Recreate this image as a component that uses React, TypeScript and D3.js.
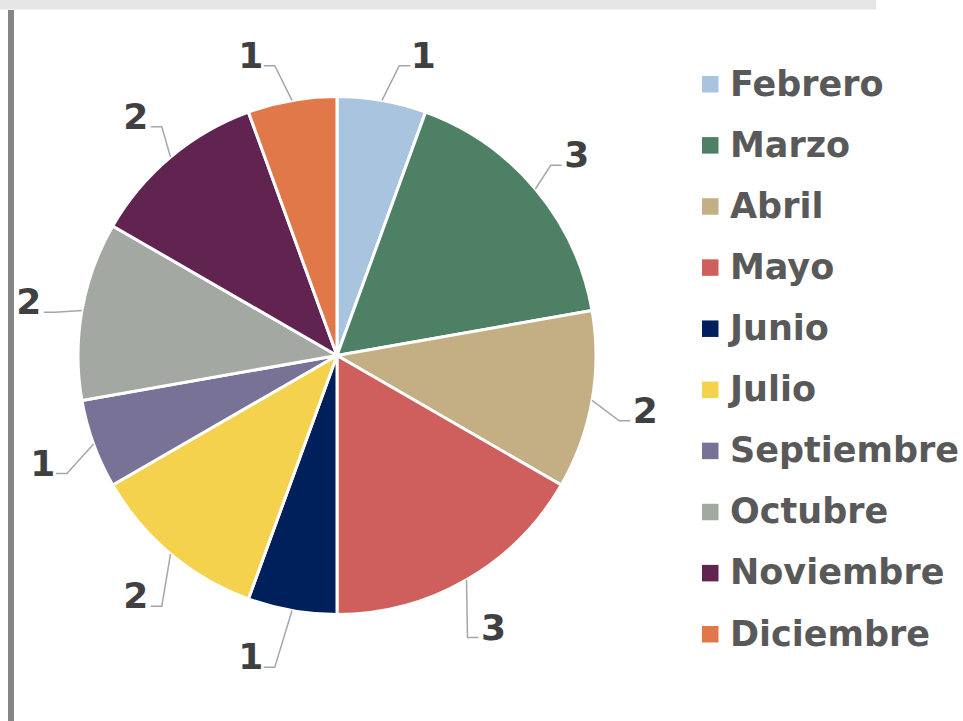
import React from "react";
import * as d3 from "d3";

const months = ["Febrero", "Marzo", "Abril", "Mayo", "Junio", "Julio", "Septiembre", "Octubre", "Noviembre", "Diciembre"];
const counts = [1, 3, 2, 3, 1, 2, 1, 2, 2, 1];
const colors = ["#a9c4de", "#4e8065", "#c4ae84", "#cf5f5d", "#00205b", "#f4d24e", "#787296", "#a3a8a3", "#612350", "#e07849"];

const W = 963;
const H = 721;
const CX = 337;
const CY = 355.5;
const R = 259;
const LABEL_R = 313;
const FONT = "'DejaVu Sans', sans-serif";

export default function App() {
  const pie = d3.pie<number>().sort(null).value((d) => d);
  const arcs = pie(counts);
  const arcGen = d3.arc<d3.PieArcDatum<number>>().innerRadius(0).outerRadius(R);
  const color = d3.scaleOrdinal<string, string>().domain(months).range(colors);
  const legendY = d3.scalePoint<string>().domain(months).range([84, 634]);

  return (
    <div style={{ position: "absolute", left: 0, top: 0 }}>
      <svg width={W} height={H} style={{ display: "block" }}>
        <rect x={0} y={0} width={W} height={H} fill="#ffffff" />
        <rect x={0} y={0} width={876} height={9.5} fill="#e6e6e6" />
        <rect x={8} y={10} width={6} height={H - 10} fill="#858585" />
        <g transform={`translate(${CX},${CY})`}>
          {arcs.map((a, i) => (
            <path key={months[i]} d={arcGen(a) || ""} fill={color(months[i])} stroke="#ffffff" strokeWidth={3} strokeLinejoin="round" />
          ))}
        </g>
        {arcs.map((a, i) => {
          const mid = (a.startAngle + a.endAngle) / 2;
          const s = Math.sin(mid);
          const c = Math.cos(mid);
          const dir = s >= 0 ? 1 : -1;
          // push labels of slices near the vertical axis sideways
          let la = mid;
          if (Math.abs(s) < 0.3) {
            const away = (c > 0 ? 1 : -1) * dir;
            la = mid + away * (6 * Math.PI) / 180;
          }
          const tcx = CX + LABEL_R * Math.sin(la);
          const tcy = CY - LABEL_R * Math.cos(la);
          const half = counts[i] === 1 ? 10 : 12;
          const ex = CX + R * s;
          const ey = CY - R * c;
          const bx = tcx - dir * (half + 14);
          const by = tcy + 11;
          const hx = bx + dir * 11;
          return (
            <g key={"lab" + i}>
              <polyline points={`${ex},${ey} ${bx},${by} ${hx},${by}`} fill="none" stroke="#a6a6a6" strokeWidth={1.5} />
              <text x={tcx} y={tcy + 13} textAnchor="middle" fontFamily={FONT} fontWeight="bold" fontSize={36} fill="#404040">
                {counts[i]}
              </text>
            </g>
          );
        })}
        {months.map((m) => (
          <g key={"leg" + m}>
            <rect x={702} y={(legendY(m) || 0) - 8} width={16.5} height={16.5} fill={color(m)} />
            <text x={730} y={(legendY(m) || 0) + 11.5} fontFamily={FONT} fontWeight="bold" fontSize={35} fill="#595959">
              {m}
            </text>
          </g>
        ))}
      </svg>
    </div>
  );
}
